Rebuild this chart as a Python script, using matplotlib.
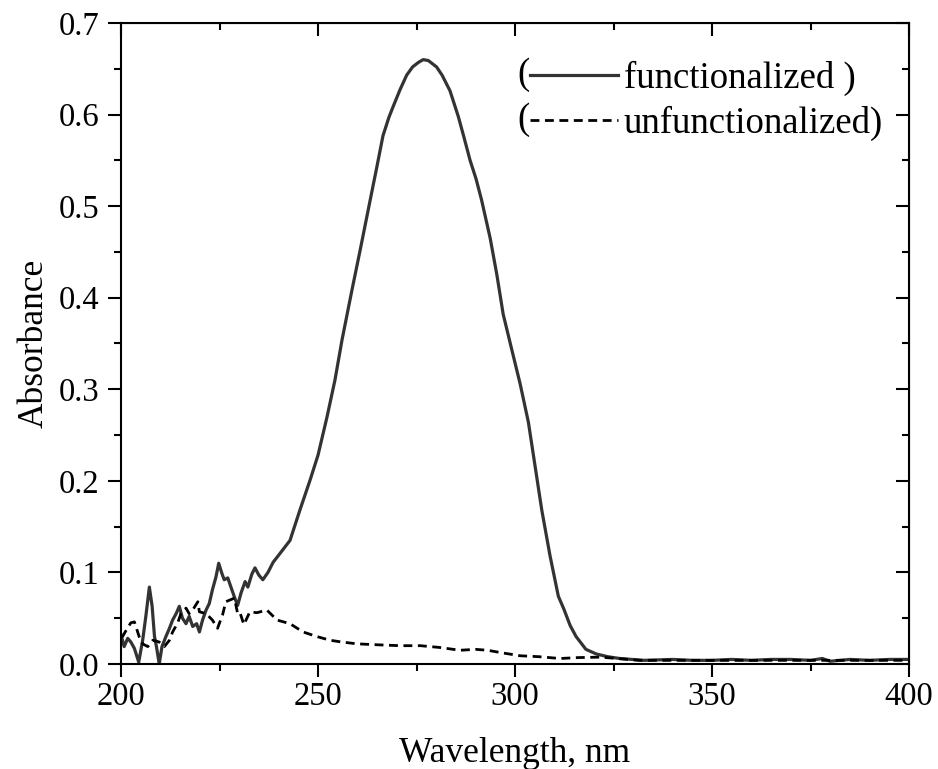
import numpy as np
import matplotlib
matplotlib.use("Agg")
import matplotlib.pyplot as plt
from matplotlib.ticker import MultipleLocator

plt.rcParams['font.family'] = ['Liberation Serif', 'DejaVu Serif']

# functionalized spectrum (solid)
wl_f = [200, 200.8, 201.7, 202.5, 203.4, 204.5, 205.5, 206.3, 207.2, 207.9,
        208.5, 209, 209.7, 210.4, 211.4, 212.3, 213.1, 214, 214.8, 215.6,
        216.5, 217.3, 218.2, 219.2, 219.9, 220.7, 221.6, 222.4, 223.2, 224.1,
        224.8, 225.6, 226.2, 227.1, 227.9, 228.8, 229.6, 230.5, 231.5, 232.2,
        233.2, 234, 235, 236, 237.3, 238.6, 240.4, 242.9, 245.4, 248,
        250, 252.3, 254.3, 256.1, 258.6, 260.7, 263.4, 264.9, 266.5, 268,
        269.1, 270.8, 272.5, 274, 275.5, 276.7, 278, 280.1, 281.5, 283.5,
        285.6, 287, 288.6, 290.1, 291.5, 293.7, 295.4, 297, 299.2, 301.3, 303.4,
        305.1, 306.8, 308.9, 311, 312.4, 314, 315.5, 318, 320.6, 323.5,
        326.6, 332.7, 340, 345, 350, 355, 360, 365, 370, 375,
        378, 380, 385, 390, 395, 400]
abs_f = [0.032, 0.019, 0.028, 0.024, 0.017, 0.002, 0.026, 0.052, 0.084, 0.063,
         0.030, 0.019, 0.000, 0.019, 0.030, 0.039, 0.048, 0.055, 0.063, 0.050,
         0.044, 0.052, 0.041, 0.044, 0.035, 0.048, 0.059, 0.066, 0.081, 0.095,
         0.110, 0.099, 0.092, 0.094, 0.084, 0.073, 0.064, 0.078, 0.090, 0.084,
         0.098, 0.105, 0.097, 0.092, 0.100, 0.111, 0.121, 0.135, 0.168, 0.201,
         0.228, 0.270, 0.310, 0.354, 0.408, 0.452, 0.510, 0.542, 0.577, 0.597,
         0.609, 0.627, 0.643, 0.652, 0.657, 0.660, 0.659, 0.652, 0.643, 0.626,
         0.598, 0.576, 0.550, 0.530, 0.507, 0.465, 0.425, 0.382, 0.343, 0.306, 0.264,
         0.216, 0.168, 0.118, 0.074, 0.060, 0.042, 0.030, 0.016, 0.011, 0.008,
         0.006, 0.004, 0.005, 0.004, 0.004, 0.005, 0.004, 0.005, 0.005, 0.004,
         0.006, 0.003, 0.005, 0.004, 0.005, 0.005]

# unfunctionalized spectrum (dashed)
wl_u = [200, 200.4, 201.2, 202.5, 203.4, 204.6, 205.5, 206.8, 208.1, 209.7,
        211, 212.3, 213.1, 214.4, 215.2, 216.5, 217.3, 218.2, 219.5, 219.9,
        221.6, 223.2, 224.5, 225.8, 226.6, 228.8, 229.6, 230.2, 231.2, 232.7,
        234.5, 237, 239.6, 242.9, 246.2, 249.7, 253, 256, 260, 265,
        270.8, 276, 281, 286, 290, 293, 297, 301.3, 306, 311.4,
        316, 321.6, 326, 331.7, 340, 350, 360, 370, 380, 390, 400]
abs_u = [0.030, 0.030, 0.036, 0.045, 0.046, 0.030, 0.022, 0.019, 0.026, 0.024,
         0.019, 0.026, 0.035, 0.045, 0.055, 0.061, 0.055, 0.059, 0.068, 0.057,
         0.055, 0.048, 0.039, 0.054, 0.068, 0.072, 0.055, 0.056, 0.043, 0.057,
         0.056, 0.059, 0.048, 0.044, 0.035, 0.030, 0.026, 0.024, 0.022, 0.021,
         0.020, 0.020, 0.018, 0.015, 0.016, 0.015, 0.012, 0.009, 0.008, 0.006,
         0.007, 0.0075, 0.006, 0.004, 0.004, 0.004, 0.004, 0.004, 0.004, 0.004, 0.004]

fig = plt.figure(figsize=(9.38, 7.69), dpi=100)
ax = fig.add_axes([121/938, 1 - 664/769, 788/938, 641/769])

ax.plot(wl_f, abs_f, color='#333333', lw=2.3, label='functionalized )')
ax.plot(wl_u, abs_u, color='black', lw=2.0, dashes=(3.2, 2.0),
        label='unfunctionalized)')

ax.set_xlim(200, 400)
ax.set_ylim(0, 0.7)
ax.xaxis.set_major_locator(MultipleLocator(50))
ax.xaxis.set_minor_locator(MultipleLocator(25))
ax.yaxis.set_major_locator(MultipleLocator(0.1))
ax.yaxis.set_minor_locator(MultipleLocator(0.05))
ax.yaxis.set_major_formatter(plt.FormatStrFormatter('%.1f'))

for s in ax.spines.values():
    s.set_linewidth(1.5)
ax.tick_params(which='both', direction='out', width=1.5, labelsize=23.5)
ax.tick_params(which='major', length=9.5)
ax.tick_params(which='minor', length=5)
ax.tick_params(axis='x', pad=3)
ax.tick_params(axis='y', pad=6)

# top/right ticks pointing in
top = ax.secondary_xaxis('top')
right = ax.secondary_yaxis('right')
for a in (top, right):
    a.tick_params(which='both', direction='in', width=1.5, labelsize=0)
    a.tick_params(which='major', length=9.5)
    a.tick_params(which='minor', length=5)
top.xaxis.set_major_locator(MultipleLocator(50))
top.xaxis.set_minor_locator(MultipleLocator(25))
top.set_xticklabels([])
right.yaxis.set_major_locator(MultipleLocator(0.1))
right.yaxis.set_minor_locator(MultipleLocator(0.05))
right.set_yticklabels([])

ax.set_xlabel('Wavelength, nm', fontsize=25.5, labelpad=18)
ax.set_ylabel('Absorbance', fontsize=25.5, labelpad=6)

leg = ax.legend(loc='upper right', frameon=False, fontsize=26.5,
                handlelength=2.4, handletextpad=0.15, labelspacing=0.28,
                borderaxespad=0.3, bbox_to_anchor=(1.0, 0.982))

fig.canvas.draw()
for ln in leg.get_lines():
    bb = ln.get_window_extent(fig.canvas.get_renderer())
    y = (bb.y0 + bb.y1) / 2
    fig.text(bb.x0 - 1, y, '(', fontsize=26.5, ha='right', va='center',
             transform=None)

fig.savefig('out.png', dpi=100)
